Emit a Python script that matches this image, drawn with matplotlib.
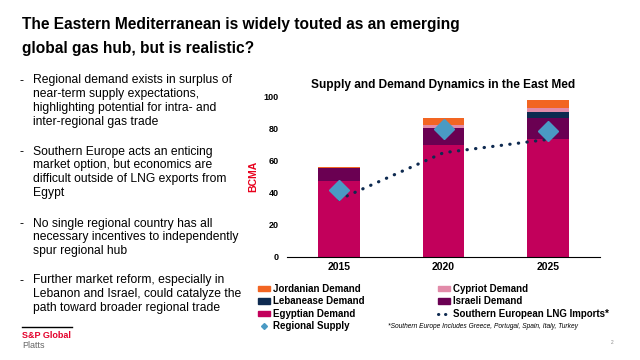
import numpy as np
import matplotlib
matplotlib.use('Agg')
import matplotlib.pyplot as plt
from matplotlib.lines import Line2D
from matplotlib.patches import Patch
from matplotlib import font_manager

plt.rcParams['font.family'] = ['Liberation Sans', 'DejaVu Sans']

years = ['2015', '2020', '2025']
egyptian = [47.3, 69.8, 73.5]
israeli = [8.1, 10.6, 13.2]
lebanese = [0.0, 0.0, 3.7]
cypriot = [0.0, 1.9, 2.5]
jordanian = [0.6, 4.4, 5.0]
regional_supply = [41.7, 79.8, 78.5]
lng_imports = [35.8, 65.0, 73.3]

bullets = [
    "Regional demand exists in surplus of\nnear-term supply expectations,\nhighlighting potential for intra- and\ninter-regional gas trade",
    "Southern Europe acts an enticing\nmarket option, but economics are\ndifficult outside of LNG exports from\nEgypt",
    "No single regional country has all\nnecessary incentives to independently\nspur regional hub",
    "Further market reform, especially in\nLebanon and Israel, could catalyze the\npath toward broader regional trade",
]
bullet_y = [80, 151, 223, 280]

c_egy = '#C2005B'
c_isr = '#6A0052'
c_leb = '#0E2A50'
c_cyp = '#E28BA9'
c_jor = '#F26522'
c_sup = '#4A9AC4'
c_lng = '#0E2A50'

# narrow face for the slide title if it is there
names = {f.name for f in font_manager.fontManager.ttflist}
if 'Liberation Sans Narrow' in names:
    title_font, title_size = ['Liberation Sans Narrow', 'DejaVu Sans'], 14.2
else:
    title_font, title_size = ['Liberation Sans', 'DejaVu Sans'], 11.2

W, H = 640, 360
fig = plt.figure(figsize=(6.4, 3.6), dpi=100)

def fx(px):
    return px / W

def fy(py):
    return 1 - py / H

fig.text(fx(22), fy(25), "The Eastern Mediterranean is widely touted as an emerging",
         fontsize=title_size, fontweight='bold', va='center', ha='left', family=title_font)
fig.text(fx(22), fy(49), "global gas hub, but is realistic?",
         fontsize=title_size, fontweight='bold', va='center', ha='left', family=title_font)

for txt, yy in zip(bullets, bullet_y):
    fig.text(fx(19), fy(yy + 1), "-", fontsize=8.7, va='center', ha='left')
    fig.text(fx(33), fy(yy - 5.5), txt, fontsize=8.7, va='top', ha='left',
             linespacing=1.22)

# logo
fig.add_artist(Line2D([fx(22), fx(72)], [fy(327), fy(327)], color='black', lw=1))
fig.text(fx(22), fy(335), "S&P Global", color='#E4002B', fontsize=6.5,
         fontweight='bold', va='center', ha='left')
fig.text(fx(22), fy(346), "Platts", color='#666666', fontsize=6.5,
         va='center', ha='left')
fig.text(fx(611), fy(342), "2", color='#888888', fontsize=3.5, va='center')

ax = fig.add_axes([fx(287), fy(256.7), fx(600 - 287), (256.7 - 96.7) / H])
x = np.arange(len(years))
w = 0.4
bottom = np.zeros(len(years))
for vals, col, lab in [(egyptian, c_egy, 'Egyptian Demand'),
                       (israeli, c_isr, 'Israeli Demand'),
                       (lebanese, c_leb, 'Lebanease Demand'),
                       (cypriot, c_cyp, 'Cypriot Demand'),
                       (jordanian, c_jor, 'Jordanian Demand')]:
    ax.bar(x, vals, w, bottom=bottom, color=col, label=lab, zorder=2)
    bottom += np.array(vals)

ax.plot(x, lng_imports, linestyle=(0, (0.1, 2.6)), color=c_lng, lw=2.3,
        dash_capstyle='round', zorder=3)
ax.plot(x, regional_supply, linestyle='none', marker='D', markersize=10,
        color=c_sup, zorder=4)

ax.set_xlim(-0.5, 2.5)
ax.set_ylim(0, 100)
ax.set_yticks([0, 20, 40, 60, 80, 100])
ax.set_xticks(x)
ax.set_xticklabels(years)
for s in ['top', 'right', 'left']:
    ax.spines[s].set_visible(False)
ax.spines['bottom'].set_color('black')
ax.tick_params(axis='y', length=0, labelsize=6.5, pad=6)
ax.tick_params(axis='x', length=0, labelsize=7.5, pad=4)
for lbl in ax.get_xticklabels() + ax.get_yticklabels():
    lbl.set_fontweight('bold')
ax.set_ylabel('BCMA', color='#E8001C', fontweight='bold', fontsize=7.5, labelpad=4)
ax.set_title('Supply and Demand Dynamics in the East Med', fontsize=8.6,
             fontweight='bold', pad=6)

handles = [
    Patch(color=c_jor, label='Jordanian Demand'),
    Patch(color=c_leb, label='Lebanease Demand'),
    Patch(color=c_egy, label='Egyptian Demand'),
    Line2D([], [], marker='D', ls='none', color=c_sup, markersize=3,
           label='Regional Supply'),
    Patch(color=c_cyp, label='Cypriot Demand'),
    Patch(color=c_isr, label='Israeli Demand'),
    Line2D([], [], ls=(0, (0.1, 2.2)), color=c_lng, lw=2.2, dash_capstyle='round',
           label='Southern European LNG Imports*'),
]
leg = fig.legend(handles=handles, ncol=2, loc='upper left',
                 bbox_to_anchor=(fx(258), fy(284)), frameon=False,
                 prop={'size': 7, 'weight': 'bold'}, handlelength=1.2,
                 handleheight=0.5, handletextpad=0.3, columnspacing=7.6,
                 labelspacing=0.25, borderaxespad=0, borderpad=0)

fig.text(fx(388), fy(327), "*Southern Europe Includes Greece, Portugal, Spain, Italy, Turkey",
         fontsize=4.8, style='italic', va='center', ha='left')

fig.savefig('out.png', dpi=100)
